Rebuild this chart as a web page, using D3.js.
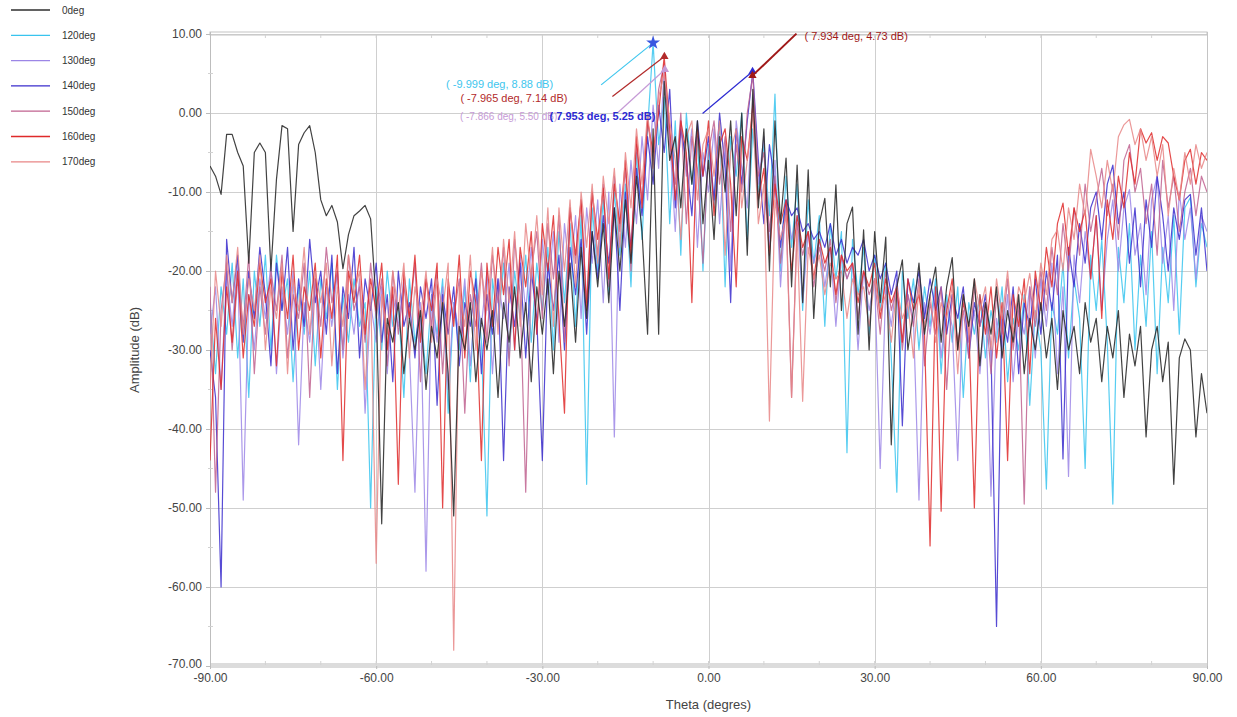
<!DOCTYPE html>
<html>
<head>
<meta charset="utf-8">
<script src="https://cdn.jsdelivr.net/npm/d3@7"></script>
<style>
  html, body { margin: 0; padding: 0; background: #fff; }
  svg { display: block; font-family: "Liberation Sans", Arial, sans-serif; }
</style>
</head>
<body>
<div id="chart"></div>
<script>
// sampling grid, one value per degree
const theta = d3.range(-90, 91, 1)

const seriesNames = ["0deg", "120deg", "130deg", "140deg", "150deg", "160deg", "170deg"]

const deg0 = [
  -6.7,-8,-10.3,-2.7,-2.7,-5,-6.7,-19,-5,-3.8,
  -5,-20,-8.4,-1.6,-2,-15,-4,-2.5,-1.6,-5,
  -11,-13,-11.7,-13.8,-19.7,-15.4,-13,-12.4,-11.7,-13.4,
  -24,-52,-26,-29,-24,-33,-26,-30,-25,-35,
  -27,-31,-24,-33,-51,-27,-30,-24,-34,-26,
  -30,-25,-36,-24,-29,-22,-31,-24,-34,-22,
  -28,-21,-33,-20,-27,-19,-29,-17,-26,-15,
  -22,-14,-24,-12,-20,-11,-19,-8,-15,-28,
  -2,-28,4,-6,-3,-12,-2,-9,-1,-14,
  -6,-16,-3,-10,-1,-13,0,-18,3,-12,
  -2,-20,-1,-14,-5.7,-22,-6.6,-24,-7.2,-26,
  -14,-10.8,-22,-9.1,-25,-14,-11.9,-28,-14.8,-30,
  -15,-24,-15.7,-42,-22,-18.6,-30,-25,-19,-28,
  -23,-19.5,-29,-22,-18.3,-30,-23,-27,-21,-32,
  -24,-28,-22,-31,-25,-29,-23,-33,-26,-30,
  -24,-31,-26,-35,-25,-30,-27,-33,-24,-29,
  -26,-34,-27,-31,-25,-36,-28,-32,-27,-41,
  -30,-27,-34,-29,-47,-31,-28.6,-30,-41,-33,
  -38
]

const deg120 = [
  -24,-33,-22,-28,-19,-31,-21,-36,-20,-27,
  -18,-30,-18,-25,-21,-34,-22,-28,-20,-32,
  -21,-26,-19,-35,-23,-29,-21,-27,-24,-50,
  -22,-30,-20,-27,-24,-36,-21,-29,-25,-33,
  -23,-28,-21,-38,-24,-30,-22,-34,-20,-29,
  -51,-21,-27,-19,-31,-20,-26,-18,-29,-19,
  -25,-17,-30,-15,-24,-14,-27,-13,-47,-12,
  -20,-11,-23,-10,-18,-9,-22,-5,-16,-2,
  8.88,-4,2,-14,-1,-18,0,-9,-3,-20,
  -4,-12,-1,-22,-3,-8,0,-16,-2,-10,
  -4,-13,2.4,-20,-8,-17,-9,-25,-11,-19,
  -13,-27,-14,-21,-15,-43,-16,-23,-17,-28,
  -18,-25,-19,-31,-48,-20,-26,-21,-30,-22,
  -27,-21,-33,-23,-29,-22,-36,-24,-28,-23,
  -31,-25,-29,-22,-34,-26,-30,-23,-37,-25,
  -30,-47.6,-24,-28,-19,-31,-21,-26,-45,-18,
  -25,-16,-29,-49.5,-17,-24,-14,-30,-18,-27,
  -15,-33,-17,-24,-13,-28,-12,-10.7,-22,-14,
  -17
]

const deg130 = [
  -28,-22,-35,-20,-27,-19,-49,-23,-30,-21,
  -26,-19,-33,-22,-28,-20,-42,-24,-29,-21,
  -35,-22,-27,-20,-31,-23,-28,-21,-38,-24,
  -29,-22,-33,-23,-27,-21,-30,-48,-24,-58,
  -23,-29,-22,-35,-24,-28,-21,-32,-23,-27,
  -20,-33,-21,-26,-19,-30,-18,-25,-17,-28,
  -16,-23,-15,-29,-14,-21,-13,-26,-12,-19,
  -11,-24,-10,-41,-9,-17,-6,-14,-3,-11,
  1,-7,5.5,-3,-15,-1,-8,-2,-17,-5,
  -10,-2,-14,-4,-20,-1,-7,-12,2,-9,
  -3,-17,-6,-22,-11,-16,-13,-24,-15,-19,
  -16,-22,-17,-27,-18,-21,-19,-30,-20,-25,
  -21,-45,-22,-27,-21,-29,-23,-26,-49,-24,
  -28,-22,-31,-24,-27,-44,-23,-29,-25,-33,
  -24,-48.5,-26,-30,-23,-34,-25,-28,-22,-31,
  -21,-27,-19,-33,-22,-46,-18,-24,-15,-21,
  -13,-25,-16,-11,-20,-12,-9.7,-18,-14,-23,
  -11,-8,-19,-13,-25,-10,-16,-12,-21,-13,
  -15
]

const deg140 = [
  -30,-36,-60,-16,-24,-18,-29,-20,-26,-17,
  -23,-32,-19,-25,-17,-30,-21,-27,-16,-24,
  -20,-28,-18,-33,-22,-26,-17,-31,-21,-25,
  -19,-29,-23,-34,-20,-27,-24,-31,-22,-26,
  -21,-37,-23,-28,-22,-32,-24,-27,-21,-33,
  -23,-28,-21,-44,-22,-27,-19,-31,-20,-26,
  -44,-19,-25,-18,-30,-17,-23,-16,-28,-15,
  -21,-13,-19,-12,-25,-10,-17,-7,-13,-3,
  -9,1,-5,3,-12,-2,-6,-13,-1,-8,
  -3,-11,0,-7,-24,-2,-9,-1,5.25,-6,
  -14,-4,-9,-17,-11,-13,-12,-15,-14,-16,
  -15,-17,-14,-18,-16,-19,-17,-18,-16,-20,
  -18,-21,-19,-23,-20,-39.6,-21,-24,-20,-26,
  -21,-25,-22,-28,-23,-26,-22,-31,-24,-27,
  -23,-30,-65,-25,-29,-22,-33,-24,-27,-21,
  -28,-20,-25,-18,-43.8,-17,-22,-14,-19,-12,
  -10,-16,-9,-6.6,-14,-10,-19,-12,-22,-11,
  -17,-8,-13,-20,-12,-16,-11,-10.3,-18,-12,
  -20
]

const deg150 = [
  -22,-48,-25,-19,-30,-21,-27,-18,-33,-22,
  -28,-20,-25,-18,-31,-23,-26,-19,-36,-21,
  -27,-17,-24,-20,-30,-18,-25,-22,-29,-19,
  -26,-21,-32,-20,-28,-22,-26,-19,-34,-21,
  -27,-20,-33,-22,-26,-21,-38,-23,-27,-19,
  -29,-18,-24,-17,-32,-16,-23,-48,-20,-15,
  -26,-14,-21,-13,-29,-12,-19,-11,-24,-10,
  -18,-9,-22,-8,-15,-7,-20,-4,-11,-1,
  -6,3,6.2,-4,-9,0,-14,-3,-7,-19,
  -5,-1,-9,-3,-15,-4,-10,0,4.73,-8,
  -5,-15,-8,-19,-12,-36,-14,-18,-15,-22,
  -17,-20,-16,-24,-18,-21,-19,-26,-20,-23,
  -21,-28,-20,-25,-22,-30,-23,-27,-21,-32,
  -24,-28,-22,-35,-23,-29,-25,-31,-22,-27,
  -24,-33,-23,-28,-21,-30,-24,-49.5,-22,-27,
  -20,-25,-17,-23,-14,-20,-12,-18,-9,-15,
  -11,-7,-13,-9,-16,-6,-4,-10,-7,-14,
  -9,-18,-6,-12,-8,-15,-10,-7,-13,-8,
  -10
]

const deg160 = [
  -44,-26,-35,-22,-29,-20,-31,-23,-27,-19,
  -24,-21,-32,-20,-26,-18,-30,-22,-25,-19,
  -31,-21,-26,-18,-44,-20,-24,-18,-28,-21,
  -25,-19,-30,-22,-47,-20,-26,-18,-29,-21,
  -25,-19,-50,-21,-27,-18,-31,-20,-24,-44,
  -19,-27,-17,-23,-16,-30,-17,-22,-15,-28,
  -14,-20,-13,-26,-38,-12,-18,-11,-25,-10,
  -16,-9.5,-21,-9,-14,-6,-18,-3,-12,-1,
  -5,0,7.14,-2,-11,-1,-5,-24,-2,-8,
  -1,-13,-4,-2,-9,-22,-3,-6,1,-11,
  -7,-18,-9,-14,-11,-20,-13,-17,-15,-21,
  -16,-19,-17,-23,-18,-20,-19,-24,-20,-22,
  -19,-26,-21,-24,-22,-29,-21,-25,-23,-28,
  -54.8,-22,-50.4,-25,-21,-30,-24,-27,-50,-23,
  -28,-22,-31,-24,-44,-23,-27,-21,-33,-20,
  -25,-17,-22,-14,-11.4,-18,-12,-15,-12.3,-21,
  -13,-26,-11,-16,-8,-12,-5,-9,-2,-3.8,
  -2.5,-6,-3,-3.8,-8,-11,-6,-4.6,-9,-5,
  -6
]

const deg170 = [
  -35,-20,-27,-18,-24,-17,-28,-21,-25,-18,
  -30,-22,-26,-19,-33,-21,-25,-17,-28,-20,
  -24,-19,-32,-22,-27,-18,-23,-20,-35,-22,
  -57,-23,-28,-20,-25,-19,-31,-22,-26,-20,
  -29,-21,-25,-19,-68,-22,-27,-18,-30,-20,
  -25,-17,-28,-16,-24,-15,-27,-14,-21,-13,
  -23,-12,-27,-12,-20,-11,-22,-10,-17,-9,
  -19,-8,-14,-7,-17,-5,-12,-2,-9,0,
  -7,2,5,-1,-6,-16,-3,-1,-11,-4,
  -2,-8,-1,-18,-5,-2,-12,-6,0,-14,
  -9,-39,-11,-16,-13,-36,-15,-36.5,-17,-21,
  -18,-23,-19,-21,-20,-26,-21,-23,-22,-27,
  -21,-25,-23,-29,-22,-26,-24,-31,-22,-27,
  -23,-29,-24,-26,-22,-33,-23,-28,-21,-25,
  -22,-30,-21,-26,-20,-28,-22,-24,-20.3,-26,
  -19,-23,-16,-14.8,-20,-12,-16,-9,-13,-4.6,
  -8,-12,-6,-10,-3,-1.5,-0.8,-4,-2,-6,
  -3,-8,-4,-13,-7,-11,-5,-9,-4,-7,
  -5
]

const seriesValues = [deg0, deg120, deg130, deg140, deg150, deg160, deg170]
const seriesColors = ["#2e2e2e", "#38c4ee", "#9c86e6", "#3a2ccc", "#c0628f", "#df2a2a", "#e88686"]

const xTicks = [-90, -60, -30, 0, 30, 60, 90]
const yTicks = [10, 0, -10, -20, -30, -40, -50, -60, -70]

// marker read-outs
const markerTheta = [-9.999, -7.965, -7.866, 7.953, 7.934]
const markerDb = [8.88, 7.14, 5.50, 5.25, 4.73]
const markerColors = ["#3ec6ee", "#b22a2a", "#c69ad6", "#2c2ad2", "#a01818"]

const width = 1237, height = 717
const margin = { left: 210, right: 30, top: 34, bottom: 51 }

const svg = d3.select("#chart").append("svg")
  .attr("width", width)
  .attr("height", height)

const x = d3.scaleLinear().domain([-90, 90]).range([margin.left, width - margin.right])
const y = d3.scaleLinear().domain([-70, 10]).range([height - margin.bottom, margin.top])

const fmt2 = d => d.toFixed(2)

// grid
const grid = svg.append("g").attr("stroke", "#cfcfcf").attr("stroke-width", 1)
grid.selectAll("line.v").data(xTicks).join("line")
  .attr("x1", d => Math.round(x(d)) + 0.5).attr("x2", d => Math.round(x(d)) + 0.5)
  .attr("y1", y(10)).attr("y2", y(-70))
grid.selectAll("line.h").data(yTicks).join("line")
  .attr("x1", x(-90)).attr("x2", x(90))
  .attr("y1", d => Math.round(y(d)) + 0.5).attr("y2", d => Math.round(y(d)) + 0.5)

// frame: double line on top, thick band at the bottom
svg.append("rect").attr("x", x(-90)).attr("y", y(10) - 2).attr("width", x(90) - x(-90)).attr("height", 3)
  .attr("fill", "none").attr("stroke", "#c4c4c4").attr("stroke-width", 1)
svg.append("rect").attr("x", x(-90)).attr("y", y(-70) - 3).attr("width", x(90) - x(-90)).attr("height", 5)
  .attr("fill", "#dcdcdc")
svg.append("line").attr("x1", x(-90) + 0.5).attr("x2", x(-90) + 0.5).attr("y1", y(10) - 2).attr("y2", y(-70) + 2)
  .attr("stroke", "#bdbdbd")
svg.append("line").attr("x1", x(90) + 0.5).attr("x2", x(90) + 0.5).attr("y1", y(10) - 2).attr("y2", y(-70) + 2)
  .attr("stroke", "#c4c4c4")

// minor ticks
const minor = svg.append("g").attr("stroke", "#d2d2d2")
minor.selectAll("line.mx").data(d3.range(-80, 90, 10)).join("line")
  .attr("x1", d => x(d)).attr("x2", d => x(d))
  .attr("y1", y(-70) - 5).attr("y2", y(-70) - 1)
minor.selectAll("line.mt").data(d3.range(-80, 90, 10)).join("line")
  .attr("x1", d => x(d)).attr("x2", d => x(d))
  .attr("y1", y(10) + 1).attr("y2", y(10) + 4)
minor.selectAll("line.my").data(d3.range(-65, 10, 10)).join("line")
  .attr("x1", x(-90) - 2).attr("x2", x(-90) + 3)
  .attr("y1", d => y(d)).attr("y2", d => y(d))

// axes
const xAxis = svg.append("g")
  .attr("transform", `translate(0,${y(-70)})`)
  .call(d3.axisBottom(x).tickValues(xTicks).tickFormat(fmt2).tickSize(3).tickPadding(4))
xAxis.select(".domain").remove()
xAxis.selectAll("line").attr("stroke", "#bbb")
xAxis.selectAll("text").attr("font-size", 12).attr("fill", "#444")
  .attr("font-family", "Liberation Sans, Arial, sans-serif")

const yAxis = svg.append("g")
  .attr("transform", `translate(${x(-90)},0)`)
  .call(d3.axisLeft(y).tickValues(yTicks).tickFormat(fmt2).tickSize(4).tickPadding(4))
yAxis.select(".domain").remove()
yAxis.selectAll("line").attr("stroke", "#bbb")
yAxis.selectAll("text").attr("font-size", 12).attr("fill", "#444")
  .attr("font-family", "Liberation Sans, Arial, sans-serif")
// the lowest label sits a little higher so it clears the -90.00 label
yAxis.selectAll(".tick").filter(d => d === -70).select("text").attr("dy", "0.1em")

svg.append("text")
  .attr("x", (x(-90) + x(90)) / 2).attr("y", 709)
  .attr("text-anchor", "middle").attr("font-size", 13).attr("fill", "#444")
  .text("Theta (degres)")

svg.append("text")
  .attr("transform", `translate(139,${(y(10) + y(-70)) / 2}) rotate(-90)`)
  .attr("text-anchor", "middle").attr("font-size", 13).attr("fill", "#444")
  .text("Amplitude (dB)")

// curves
const line = d3.line()
  .x((d, i) => x(theta[i]))
  .y(d => y(d))

svg.append("defs").append("clipPath").attr("id", "plotClip")
  .append("rect").attr("x", x(-90)).attr("y", y(10)).attr("width", x(90) - x(-90)).attr("height", y(-70) - y(10))

const drawOrder = [1, 2, 3, 4, 5, 6, 0]
svg.append("g").attr("clip-path", "url(#plotClip)")
  .attr("fill", "none").attr("stroke-width", 1.2).attr("stroke-linejoin", "round")
  .selectAll("path")
  .data(drawOrder)
  .join("path")
  .attr("stroke", i => seriesColors[i])
  .attr("stroke-opacity", i => i === 0 ? 0.9 : 0.85)
  .attr("d", i => line(seriesValues[i]))

// legend
const legend = svg.append("g")
legend.selectAll("line").data(seriesNames).join("line")
  .attr("x1", 11).attr("x2", 50)
  .attr("y1", (d, i) => 10 + i * 25.3).attr("y2", (d, i) => 10 + i * 25.3)
  .attr("stroke", (d, i) => seriesColors[i]).attr("stroke-width", 1.3)
legend.selectAll("text").data(seriesNames).join("text")
  .attr("x", 62).attr("y", (d, i) => 13.5 + i * 25.3)
  .attr("font-size", 10).attr("fill", "#333")
  .text(d => d)

// marker read-outs (label offsets relative to the marker, in pixels)
const labelOffset = [[-207, 45], [-204, 45], [-205, 50], [-203, 48], [52, -36]]
const lineOffset = [[-52, 42], [-52, 40], [-47, 43], [-50, 42], [44, -42]]
const markerG = svg.append("g")
markerTheta.forEach((t, i) => {
  const px = x(t), py = y(markerDb[i])
  markerG.append("line")
    .attr("x1", px).attr("y1", py)
    .attr("x2", px + lineOffset[i][0]).attr("y2", py + lineOffset[i][1])
    .attr("stroke", markerColors[i]).attr("stroke-width", i === 4 ? 2 : 1.2)
  markerG.append("path")
    .attr("transform", `translate(${px},${py})`)
    .attr("d", d3.symbol().type(i === 0 ? d3.symbolStar : d3.symbolTriangle).size(i === 0 ? 60 : 30)())
    .attr("fill", i === 0 ? "#3a56e0" : markerColors[i])
  markerG.append("text")
    .attr("x", px + labelOffset[i][0]).attr("y", py + labelOffset[i][1])
    .attr("font-size", i === 2 ? 10 : 11).attr("fill", markerColors[i])
    .attr("font-weight", i === 3 ? "bold" : "normal")
    .text(`( ${t.toFixed(3)} deg,  ${markerDb[i].toFixed(2)} dB)`)
})
</script>
</body>
</html>
